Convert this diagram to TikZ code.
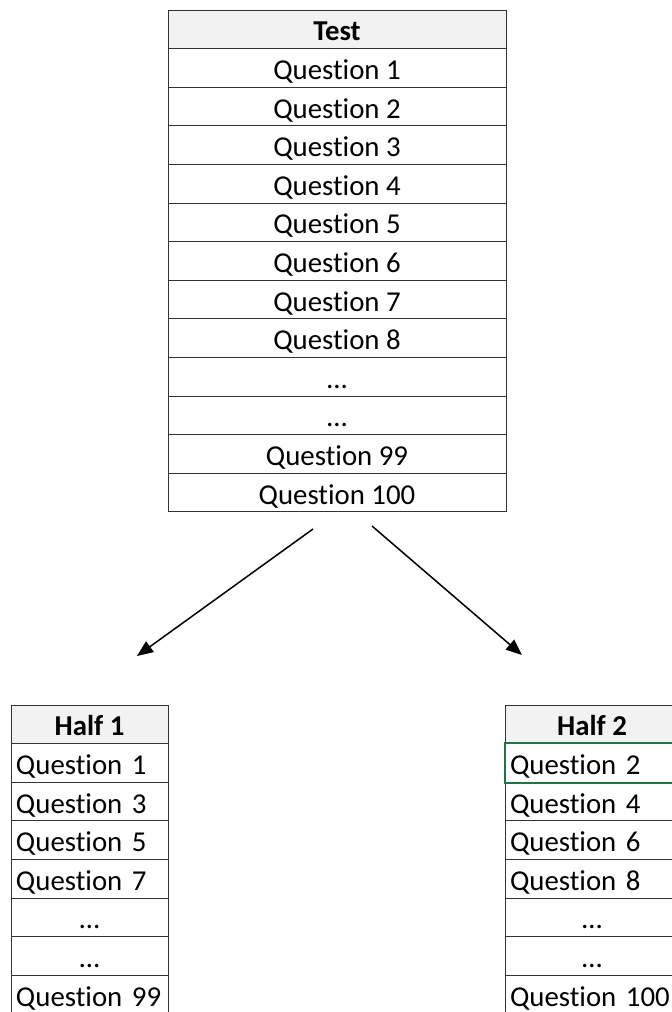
\documentclass[tikz,border=0pt]{standalone}
\usepackage{fontspec}
\setmainfont{Carlito}[Ligatures=NoCommon]
\usepackage{xcolor}
\usepackage{tikz}
\usetikzlibrary{arrows.meta,positioning}

\definecolor{selgreen}{HTML}{217346}

\begin{document}
\begin{tikzpicture}[
  x=0.5pt, y=-0.5pt,
  cell/.style={draw=black!80, line width=0.5pt, minimum height=19.3pt,
               inner xsep=3pt, inner ysep=0pt, text height=11.5pt, text depth=0pt,
               font=\fontsize{14.4}{17}\selectfont},
  head/.style={cell, fill=black!5, font=\fontsize{14.4}{17}\selectfont\bfseries},
  testcell/.style={cell, minimum width=169pt},
  lcell/.style={cell, inner xsep=2.5pt, text width=73.5pt},
  rcell/.style={cell, inner xsep=2.5pt, text width=82pt},
  selcell/.style={draw=selgreen, line width=1pt},
  >={Triangle[length=8pt,width=6.5pt]}
]
\clip (0,0) rectangle (672,1012);

% full test
\node[head, minimum width=169pt] (test) at (337,29.3) {Test};
\foreach \q [count=\i] in {Question 1,Question 2,Question 3,Question 4,Question 5,Question 6,Question 7,Question 8,…,…,Question 99,Question 100}
  \node[testcell] (t\i) at (337,{29.3+38.6*\i}) {\q};

% split arrows
\coordinate (lstart) at (313,529);
\coordinate (lend)   at (137,656);
\coordinate (rstart) at (372,526);
\coordinate (rend)   at (522,655);
\draw[->, line width=0.75pt] (lstart) -- (lend);
\draw[->, line width=0.75pt] (rstart) -- (rend);

% half 1
\node[head, minimum width=78.5pt] (half1) at (89.5,724.3) {Half 1};
\foreach \q [count=\i] in {Question 1,Question 3,Question 5,Question 7}
  \node[lcell] (a\i) at (89.5,{724.3+38.6*\i}) {\mbox{\q}};
\node[cell, minimum width=78.5pt] (a5) at (89.5,{724.3+38.6*5}) {…};
\node[cell, minimum width=78.5pt] (a6) at (89.5,{724.3+38.6*6}) {…};
\node[lcell] (a7) at (89.5,{724.3+38.6*7}) {\mbox{Question 99}};

% half 2
\node[head, minimum width=87pt] (half2) at (592,724.3) {Half 2};
\foreach \q [count=\i] in {Question 2,Question 4,Question 6,Question 8}
  \node[rcell] (b\i) at (592,{724.3+38.6*\i}) {\mbox{\q}};
\node[cell, minimum width=87pt] (b5) at (592,{724.3+38.6*5}) {…};
\node[cell, minimum width=87pt] (b6) at (592,{724.3+38.6*6}) {…};
\node[rcell] (b7) at (592,{724.3+38.6*7}) {\mbox{Question 100}};

\draw[selcell] (b1.north west) rectangle (b1.south east);
\end{tikzpicture}
\end{document}
